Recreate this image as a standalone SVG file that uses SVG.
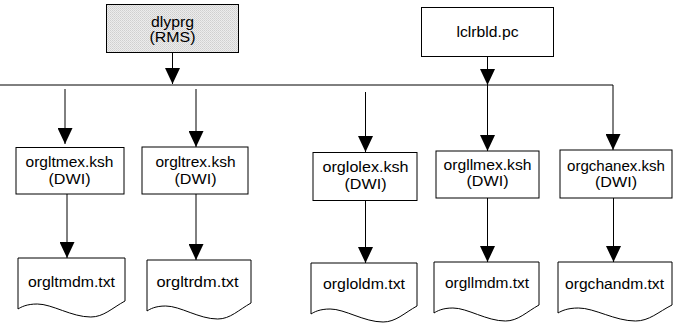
<svg xmlns="http://www.w3.org/2000/svg" width="673" height="323" viewBox="0 0 673 323">
<style>
.box{fill:#fff;stroke:#000;stroke-width:1}
.doc{fill:#fff;stroke:#000;stroke-width:1}
.t{font-family:"Liberation Sans",Arial,sans-serif;font-size:14px;fill:#000;text-anchor:middle}
.c{fill:none;stroke:#000;stroke-width:1}
</style>
<defs>
<pattern id="dots" width="2" height="2" patternUnits="userSpaceOnUse">
<rect width="2" height="2" fill="#ececec"/>
<rect width="1" height="1" fill="#cfcfcf"/>
<rect x="1" y="1" width="1" height="1" fill="#d8d8d8"/>
</pattern>
<marker id="ah" viewBox="0 0 16 15" refX="16" refY="7.5" markerWidth="16" markerHeight="15" markerUnits="userSpaceOnUse" orient="auto">
<path d="M0,0 L16,7.5 L0,15 Z" fill="#000"/>
</marker>
</defs>

<g id="connectors">
<path class="c" d="M172.5,53 V84" marker-end="url(#ah)"/>
<path class="c" d="M487.5,57 V85" marker-end="url(#ah)"/>
<path class="c" d="M0,85 H613 V150" marker-end="url(#ah)"/>
<path class="c" d="M65,89 V144" marker-end="url(#ah)"/>
<path class="c" d="M196,89 V147" marker-end="url(#ah)"/>
<path class="c" d="M365.5,92 V152" marker-end="url(#ah)"/>
<path class="c" d="M487.5,85 V151" marker-end="url(#ah)"/>
<path class="c" d="M67,194 V258" marker-end="url(#ah)"/>
<path class="c" d="M196,194 V260" marker-end="url(#ah)"/>
<path class="c" d="M365.5,201 V263" marker-end="url(#ah)"/>
<path class="c" d="M487.5,198 V262" marker-end="url(#ah)"/>
<path class="c" d="M613.5,198 V262" marker-end="url(#ah)"/>
</g>

<g id="dlyprg">
<rect x="106.5" y="4.5" width="132" height="48" fill="url(#dots)" stroke="#000" stroke-width="1"/>
<text class="t" x="172.5" y="26.5" textLength="43" lengthAdjust="spacingAndGlyphs">dlyprg</text>
<text class="t" x="172.5" y="42" textLength="46" lengthAdjust="spacingAndGlyphs">(RMS)</text>
</g>

<g id="lclrbld">
<rect class="box" x="421.5" y="7.5" width="132" height="49"/>
<text class="t" x="487.5" y="36.5" textLength="62" lengthAdjust="spacingAndGlyphs">lclrbld.pc</text>
</g>

<g id="orgltmex">
<rect class="box" x="16" y="147.5" width="108" height="46.5"/>
<text class="t" x="69.5" y="167" textLength="88" lengthAdjust="spacingAndGlyphs">orgltmex.ksh</text>
<text class="t" x="69.5" y="183.5" textLength="42" lengthAdjust="spacingAndGlyphs">(DWI)</text>
</g>

<g id="orgltrex">
<rect class="box" x="142" y="147" width="106" height="47"/>
<text class="t" x="195.5" y="167" textLength="80" lengthAdjust="spacingAndGlyphs">orgltrex.ksh</text>
<text class="t" x="195.5" y="183.5" textLength="42" lengthAdjust="spacingAndGlyphs">(DWI)</text>
</g>

<g id="orglolex">
<rect class="box" x="313" y="152.5" width="104" height="48"/>
<text class="t" x="365.5" y="172" textLength="86" lengthAdjust="spacingAndGlyphs">orglolex.ksh</text>
<text class="t" x="365.5" y="188.5" textLength="42" lengthAdjust="spacingAndGlyphs">(DWI)</text>
</g>

<g id="orgllmex">
<rect class="box" x="436" y="151" width="103" height="47"/>
<text class="t" x="487.5" y="169.5" textLength="88" lengthAdjust="spacingAndGlyphs">orgllmex.ksh</text>
<text class="t" x="487.5" y="186" textLength="42" lengthAdjust="spacingAndGlyphs">(DWI)</text>
</g>

<g id="orgchanex">
<rect class="box" x="560" y="150" width="112" height="48"/>
<text class="t" x="616" y="170.5" textLength="98" lengthAdjust="spacingAndGlyphs">orgchanex.ksh</text>
<text class="t" x="616" y="187" textLength="42" lengthAdjust="spacingAndGlyphs">(DWI)</text>
</g>

<g id="orgltmdm">
<path class="doc" d="M18,258 H125 V301 C112.2,308 103.6,317 90.8,317 C71.5,317 52.2,304 37.3,304 C26.6,304 21.2,307 18,309 Z"/>
<text class="t" x="71.5" y="286.5" textLength="87" lengthAdjust="spacingAndGlyphs">orgltmdm.txt</text>
</g>

<g id="orgltrdm">
<path class="doc" d="M147,260 H251 V303 C238.5,310 230.2,319 217.7,319 C199,319 180.3,306 165.7,306 C155.3,306 150.1,309 147,311 Z"/>
<text class="t" x="197.5" y="286.5" textLength="82" lengthAdjust="spacingAndGlyphs">orgltrdm.txt</text>
</g>

<g id="orgloldm">
<path class="doc" d="M311,263 H417 V306 C404.3,313 395.8,322 383.1,322 C364,322 344.9,309 330.1,309 C319.5,309 314.2,312 311,314 Z"/>
<text class="t" x="364" y="289" textLength="82" lengthAdjust="spacingAndGlyphs">orgloldm.txt</text>
</g>

<g id="orgllmdm">
<path class="doc" d="M434,262 H539 V305 C526.4,312 518,321 505.4,321 C486.5,321 467.6,308 452.9,308 C442.4,308 437.2,311 434,313 Z"/>
<text class="t" x="487" y="288" textLength="84" lengthAdjust="spacingAndGlyphs">orgllmdm.txt</text>
</g>

<g id="orgchandm">
<path class="doc" d="M558,262 H672 V305 C658.3,312 649.2,321 635.5,321 C615,321 594.5,308 578.5,308 C567.1,308 561.4,311 558,313 Z"/>
<text class="t" x="614.5" y="289" textLength="99" lengthAdjust="spacingAndGlyphs">orgchandm.txt</text>
</g>
</svg>
